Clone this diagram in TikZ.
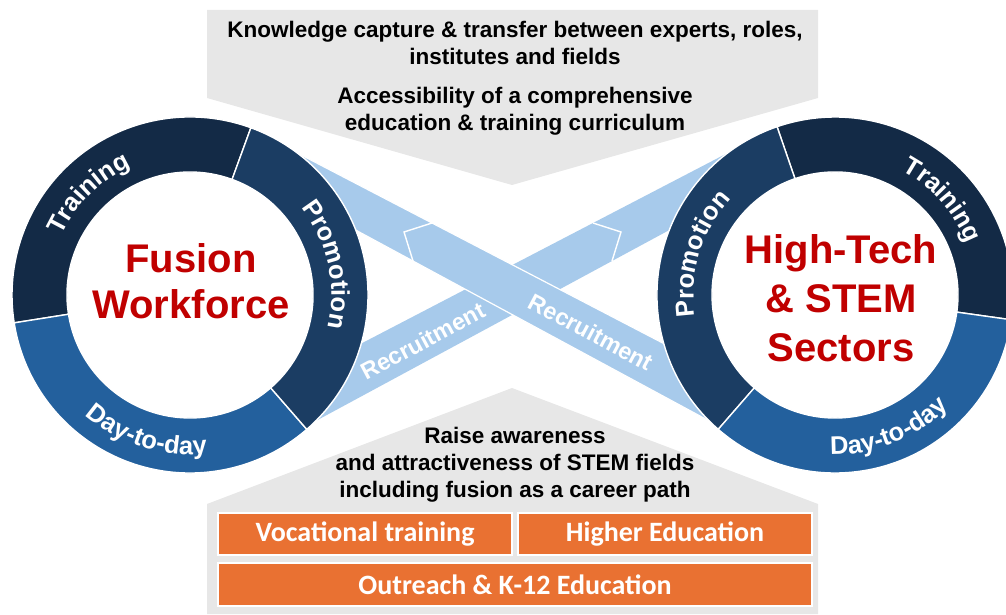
\documentclass[tikz,border=0pt]{standalone}
\usepackage{fontspec}
\setmainfont{Liberation Sans}
\newfontfamily\carlito{Carlito}
\usetikzlibrary{decorations.text}
\definecolor{navyA}{HTML}{132A46}
\definecolor{navyB}{HTML}{1B3D63}
\definecolor{blueC}{HTML}{23609D}
\definecolor{bandblue}{HTML}{A7CAEB}
\definecolor{grayfill}{HTML}{E7E7E7}
\definecolor{orangefill}{HTML}{E97132}
\definecolor{redtxt}{HTML}{C00000}
\newcommand\ringfont{\bfseries\fontsize{25.5}{25.5}\selectfont}
\begin{document}
\begin{tikzpicture}[x=1pt,y=1pt,
  seg/.style={draw=white,line width=1.4pt},
  bandshape/.style={fill=bandblue},
  bandtop/.style={fill=bandblue,draw=white,line width=1.2pt},
  notch/.style={draw=white,line width=1.4pt},
  grayshape/.style={fill=grayfill},
  obox/.style={fill=orangefill,draw=white,line width=1.2pt,text=white,
    font=\carlito\bfseries\fontsize{28}{28}\selectfont,inner sep=0pt},
  graytext/.style={font=\bfseries\fontsize{22.5}{27}\selectfont,align=center,text=black},
  titletext/.style={font=\bfseries\fontsize{40}{46}\selectfont,align=center,text=redtxt},
  recr/.style={font=\bfseries\fontsize{23.5}{23.5}\selectfont,text=white},
  outlbl/.style={decorate,decoration={text along path,text align=center,text color=white,raise=0pt}},
]
\useasboundingbox (0,0) rectangle (1006,614);
\clip (0,0) rectangle (1006,614);

% gray backgrounds
\path[grayshape] (207,604) -- (818,604) -- (818,516) -- (512,429) -- (207,516) -- cycle;
\path[grayshape] (512,226) -- (818,110) -- (818,0) -- (207,0) -- (207,110) -- cycle;

% recruitment bands
\path[bandshape] (728,461.2) -- (755,430.2) -- (280,173.7) -- (280,228.2) -- cycle;
\draw[notch] (593,391) -- (621,382) -- (612,353);
\path[bandtop] (297,461.2) -- (745,228.2) -- (745,173.7) -- (270,430.2) -- cycle;
\draw[notch] (432,391) -- (404,382) -- (413,353);

\node[recr,rotate=28] (recL) at (423,273) {Recruitment};
\node[recr,rotate=-28] (recR) at (591,282) {Recruitment};

% left ring
\coordinate (L) at (190,319);
\begin{scope}[shift={(L)}]
  \path[seg,fill=navyA] (70:178) arc[start angle=70,end angle=189,radius=178] -- (189:123) arc[start angle=189,end angle=70,radius=123] -- cycle;
  \path[seg,fill=blueC] (189:178) arc[start angle=189,end angle=311,radius=178] -- (311:123) arc[start angle=311,end angle=189,radius=123] -- cycle;
  \path[seg,fill=navyB] (-49:178) arc[start angle=-49,end angle=70,radius=178] -- (70:123) arc[start angle=70,end angle=-49,radius=123] -- cycle;
  \path[outlbl,decoration={text={|\ringfont|Training}}] (185:141.5) arc[start angle=185,end angle=85,radius=141.5];
  \path[outlbl,decoration={text={|\ringfont|Promotion}}] (62.5:141.5) arc[start angle=62.5,end angle=-37.5,radius=141.5];
  \path[outlbl,decoration={text={|\ringfont|Day-to-day}}] (202.5:159.5) arc[start angle=202.5,end angle=302.5,radius=159.5];
\end{scope}
\node[titletext] (fusion) at (191,333) {Fusion\\Workforce};

% right ring
\coordinate (R) at (835,319);
\begin{scope}[shift={(R)}]
  \path[seg,fill=navyA] (-8:178) arc[start angle=-8,end angle=109,radius=178] -- (109:123) arc[start angle=109,end angle=-8,radius=123] -- cycle;
  \path[seg,fill=navyB] (109:178) arc[start angle=109,end angle=229,radius=178] -- (229:123) arc[start angle=229,end angle=109,radius=123] -- cycle;
  \path[seg,fill=blueC] (229:178) arc[start angle=229,end angle=352,radius=178] -- (352:123) arc[start angle=352,end angle=229,radius=123] -- cycle;
  \path[outlbl,decoration={text={|\ringfont|Training}}] (91.5:141.5) arc[start angle=91.5,end angle=-8.5,radius=141.5];
  \path[outlbl,decoration={text={|\ringfont|Promotion}}] (213:141.5) arc[start angle=213,end angle=113,radius=141.5];
  \path[outlbl,decoration={text={|\ringfont|Day-to-day}}] (242:159.5) arc[start angle=242,end angle=342,radius=159.5];
\end{scope}
\node[titletext,font=\bfseries\fontsize{40}{49}\selectfont] (hitech) at (841,316) {High-Tech\\\& STEM\\Sectors};

% gray texts
\node[graytext] (know) at (515,571) {Knowledge capture \& transfer between experts, roles,\\institutes and fields};
\node[graytext] (access) at (515,503) {Accessibility of a comprehensive\\education \& training curriculum};
\node[graytext] (raise) at (515,149) {Raise awareness\\and attractiveness of STEM fields\\including fusion as a career path};

% orange boxes
\node[obox,minimum width=294pt,minimum height=42pt] (voc) at (365,80) {Vocational training};
\node[obox,minimum width=294pt,minimum height=42pt] (higher) at (665,80) {Higher Education};
\node[obox,minimum width=594pt,minimum height=43pt] (outreach) at (515,29.5) {Outreach \& K-12 Education};
\end{tikzpicture}
\end{document}
